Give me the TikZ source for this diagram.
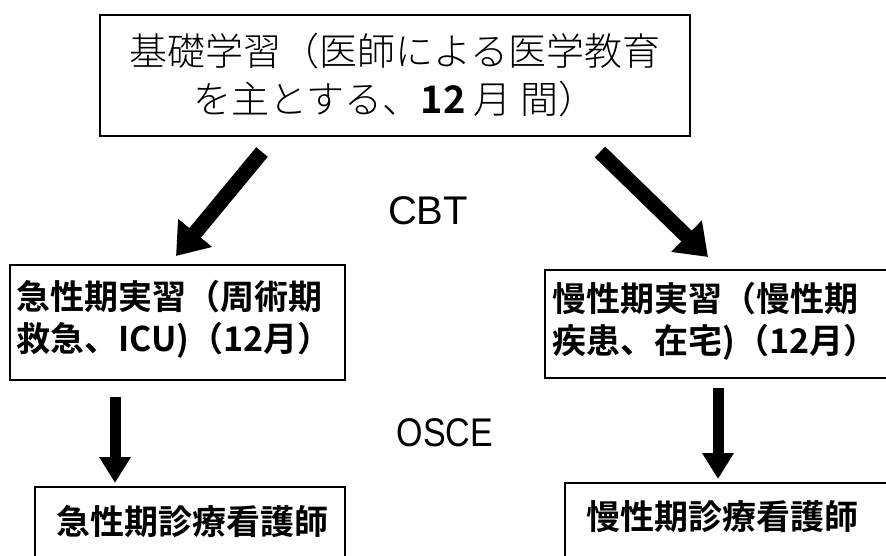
\documentclass[tikz,border=0pt]{standalone}
\usepackage{fontspec}
\setmainfont{Liberation Sans}
\newfontfamily\jp{Noto Sans CJK JP}[BoldFont={Noto Sans CJK JP Bold}]
\newfontfamily\jpl{Noto Sans CJK JP Light}[BoldFont={Noto Sans CJK JP Bold}]
\usetikzlibrary{arrows.meta}
\begin{document}
\begin{tikzpicture}[x=1pt,y=-1pt,
  box/.style={draw=black,line width=1.4pt,inner sep=0pt},
  bigarrow/.style={line width=15pt,-{Triangle[length=30pt,width=42pt]}},
  varrow/.style={line width=11pt,-{Triangle[length=26pt,width=30pt]}},
  lbl/.style={font=\fontsize{40}{40}\selectfont}]
\useasboundingbox (0,0) rectangle (886,556);
\clip (0,0) rectangle (886,556);
\fill[white] (0,0) rectangle (886,556);
% top box
\node[box,minimum width=590pt,minimum height=121pt,align=center,
  font=\jpl\fontsize{38}{48}\selectfont] (top) at (395,75.5)
  {基礎学習（医師による医学教育\\を主とする、\textbf{12} 月 間）};
% middle boxes
\node[box,minimum width=335pt,minimum height=115pt] (acute) at (177.5,322.5) {};
\node[anchor=west,align=left,inner sep=0pt,font=\jp\bfseries\fontsize{34}{42}\selectfont]
  (acutet) at (16,319) {急性期実習（周術期\\救急、ICU)（12月）};
\node[box,minimum width=360pt,minimum height=108pt] (chronic) at (725,324) {};
\node[anchor=west,align=left,inner sep=0pt,font=\jp\bfseries\fontsize{34}{42}\selectfont]
  (chronict) at (552,321) {慢性期実習（慢性期\\疾患、在宅)（12月）};
% bottom boxes
\node[box,minimum width=310pt,minimum height=90pt] (acuteN) at (190,532) {};
\node[font=\jp\bfseries\fontsize{34}{40}\selectfont,inner sep=0pt] (acuteNt) at (192,522) {急性期診療看護師};
\node[box,minimum width=340pt,minimum height=95pt] (chronicN) at (735,530.5) {};
\node[font=\jp\bfseries\fontsize{34}{40}\selectfont,inner sep=0pt] (chronicNt) at (722,517) {慢性期診療看護師};
% labels
\node[lbl] (cbt) at (428,211) {CBT};
\node[lbl,xscale=0.85] (osce) at (445,433) {OSCE};
% arrow endpoints
\coordinate (a1s) at (262,152); \coordinate (a1e) at (176,256);
\coordinate (a2s) at (600,152); \coordinate (a2e) at (708,257);
\coordinate (a3s) at (115,397); \coordinate (a3e) at (115,483);
\coordinate (a4s) at (718,388); \coordinate (a4e) at (718,479);
\draw[bigarrow] (a1s) -- (a1e);
\draw[bigarrow] (a2s) -- (a2e);
\draw[varrow] (a3s) -- (a3e);
\draw[varrow] (a4s) -- (a4e);
\end{tikzpicture}
\end{document}
